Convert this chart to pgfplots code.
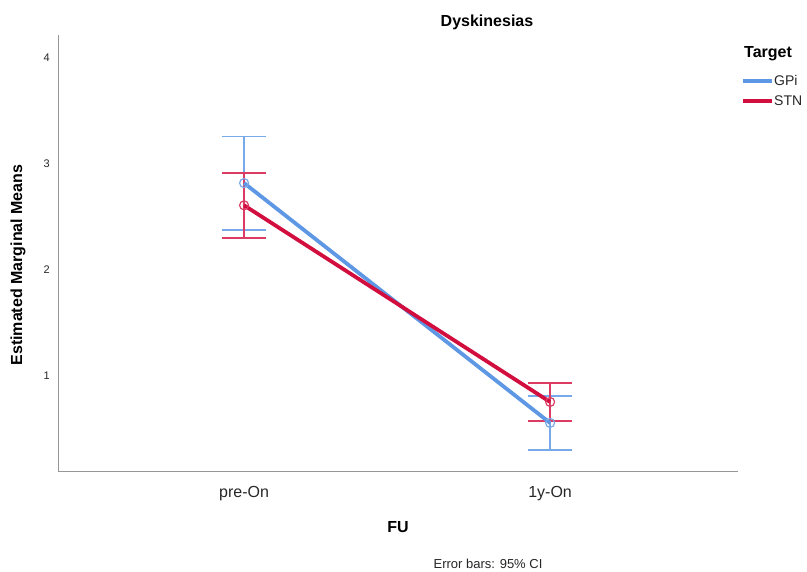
\documentclass[border=0pt]{standalone}
\usepackage{fontspec}
\setmainfont{Liberation Sans}
\usepackage{pgfplots}
\pgfplotsset{compat=1.18}
\definecolor{gpi}{RGB}{94,151,228}
\definecolor{stn}{RGB}{210,14,62}
\definecolor{gpibar}{RGB}{120,170,235}
\definecolor{stnbar}{RGB}{220,60,100}
\definecolor{axgray}{RGB}{150,150,150}
\begin{document}
\begin{tikzpicture}
\path[use as bounding box] (0pt,0pt) rectangle (807pt,572pt);
\begin{axis}[
  at={(58pt,100pt)}, anchor=south west,
  scale only axis, width=680pt, height=437pt,
  xmin=-0.608, xmax=1.614, ymin=0.094, ymax=4.217,
  axis x line*=bottom, axis y line*=left,
  axis line style={axgray, line width=1pt, -},
  xtick={0,1}, xticklabels={pre-On,1y-On},
  ytick={1,2,3,4},
  major tick length=0pt,
  /pgf/number format/assume math mode=true,
  yticklabel style={font=\fontsize{11}{11}\selectfont, color=black!85, inner sep=0pt, xshift=-8pt},
  xticklabel style={font=\fontsize{16}{16}\selectfont, color=black!85, inner sep=0pt, yshift=-14pt},
  clip=false,
]
% error bars (95% CI)
\addplot[draw=none, mark=none, forget plot,
  error bars/.cd, y dir=both, y explicit,
  error bar style={draw=gpibar, line width=1.8pt},
  error mark options={rotate=90, mark size=22pt, line width=1.8pt, draw=gpibar}]
  coordinates {(0,2.82) +- (0,0.44) (1,0.557) +- (0,0.255)};
\addplot[draw=none, mark=none, forget plot,
  error bars/.cd, y dir=both, y explicit,
  error bar style={draw=stnbar, line width=1.8pt},
  error mark options={rotate=90, mark size=22pt, line width=1.8pt, draw=stnbar}]
  coordinates {(0,2.61) +- (0,0.305) (1,0.755) +- (0,0.18)};
% means
\addplot[gpi, line width=3.8pt, mark=o, mark size=4.5pt,
  mark options={line width=1.2pt, fill=none, draw=gpibar}]
  coordinates {(0,2.82) (1,0.557)};
\addplot[stn, line width=3.8pt, mark=o, mark size=4.5pt,
  mark options={line width=1.2pt, fill=none, draw=stnbar}]
  coordinates {(0,2.61) (1,0.755)};
\end{axis}
% titles and labels
\node[font=\bfseries\fontsize{16}{16}\selectfont] at (487pt,550pt) {Dyskinesias};
\node[font=\bfseries\fontsize{16}{16}\selectfont] at (398pt,45pt) {FU};
\node[font=\bfseries\fontsize{16}{16}\selectfont, rotate=90] at (18pt,307pt) {Estimated Marginal Means};
\node[font=\fontsize{13}{13}\selectfont, color=black!85] at (488pt,8pt) {Error bars: 95\% CI};
% legend
\node[font=\bfseries\fontsize{16}{16}\selectfont, anchor=west, inner sep=0pt] at (744pt,518pt) {Target};
\draw[gpi, line width=3.8pt] (743pt,491pt) -- (772pt,491pt);
\draw[stn, line width=3.8pt] (743pt,471pt) -- (772pt,471pt);
\node[font=\fontsize{14}{14}\selectfont, anchor=west, inner sep=0pt, color=black!85] at (774pt,491pt) {GPi};
\node[font=\fontsize{14}{14}\selectfont, anchor=west, inner sep=0pt, color=black!85] at (774pt,471pt) {STN};
\end{tikzpicture}
\end{document}
